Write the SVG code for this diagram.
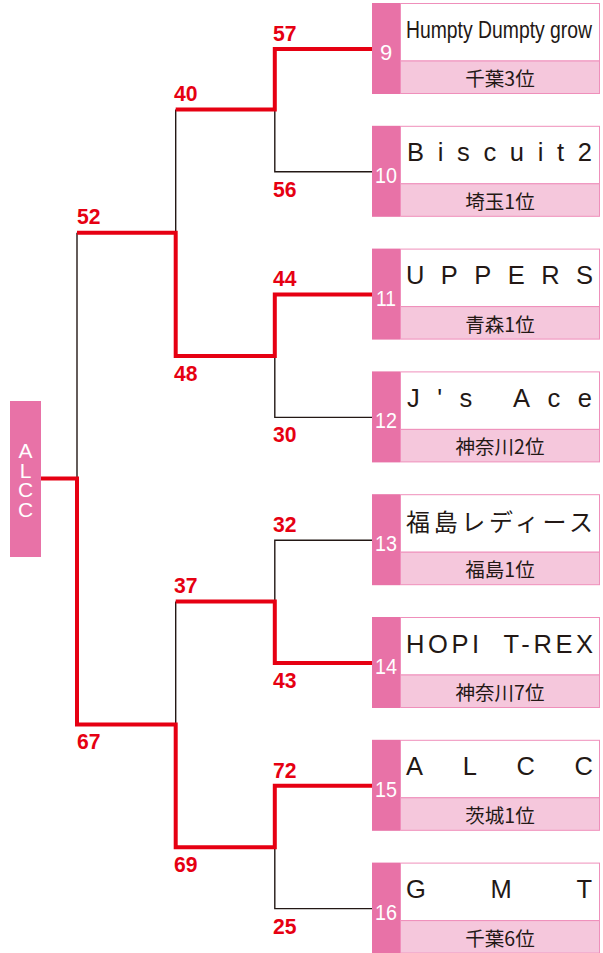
<svg xmlns="http://www.w3.org/2000/svg" width="603" height="953" viewBox="0 0 603 953">
<style>
.red{fill:none;stroke:#e60012;stroke-width:4;stroke-linejoin:miter;stroke-linecap:butt}
.blk{fill:none;stroke:#231815;stroke-width:1.4}
.score{font-family:"Liberation Sans",Arial,sans-serif;font-weight:bold;font-size:22.5px;fill:#e60012}
.col{fill:#e872a7}
.namebg{fill:#ffffff;stroke:#ef8fbb;stroke-width:1}
.subbg{fill:#f5c7dc;stroke:#ef8fbb;stroke-width:1}
.num{font-family:"Liberation Sans",Arial,sans-serif;font-size:22px;fill:#ffffff;text-anchor:middle}
.name{font-family:"Liberation Sans",Arial,"Noto Sans CJK JP",sans-serif;font-size:25.5px;fill:#231815}
.jname{font-family:"Noto Sans CJK JP",sans-serif;font-size:24px;fill:#231815}
.sub{font-family:"Noto Sans CJK JP",sans-serif;font-size:19.5px;fill:#231815;text-anchor:middle}
.champ{font-family:"Liberation Sans",Arial,sans-serif;font-size:21px;fill:#ffffff;text-anchor:middle}
</style>

<g id="connectors">
<polyline class="blk" points="372,171.8 274.8,171.8 274.8,109.4"/>
<polyline class="blk" points="372,417.4 274.8,417.4 274.8,356"/>
<polyline class="blk" points="372,540.2 274.8,540.2 274.8,601.6"/>
<polyline class="blk" points="372,908.6 274.8,908.6 274.8,847.2"/>
<polyline class="blk" points="175.7,109.4 175.7,232.7"/>
<polyline class="blk" points="175.7,601.6 175.7,724.4"/>
<polyline class="blk" points="77,232.7 77,478.5"/>
<polyline class="red" points="372,49 274.8,49 274.8,109.4 175.7,109.4"/>
<polyline class="red" points="372,294.6 274.8,294.6 274.8,356 175.7,356 175.7,232.7 77,232.7"/>
<polyline class="red" points="372,663 274.8,663 274.8,601.6 175.7,601.6"/>
<polyline class="red" points="372,785.8 274.8,785.8 274.8,847.2 175.7,847.2 175.7,724.4 77,724.4 77,478.5 41,478.5"/>
</g>

<g id="scores">
<text class="score" x="273" y="40.5" textLength="23.5" lengthAdjust="spacingAndGlyphs">57</text>
<text class="score" x="273" y="196.8" textLength="23.5" lengthAdjust="spacingAndGlyphs">56</text>
<text class="score" x="273" y="286.3" textLength="23.5" lengthAdjust="spacingAndGlyphs">44</text>
<text class="score" x="273" y="442.4" textLength="23.5" lengthAdjust="spacingAndGlyphs">30</text>
<text class="score" x="273" y="531.9" textLength="23.5" lengthAdjust="spacingAndGlyphs">32</text>
<text class="score" x="273" y="688" textLength="23.5" lengthAdjust="spacingAndGlyphs">43</text>
<text class="score" x="273" y="777.5" textLength="23.5" lengthAdjust="spacingAndGlyphs">72</text>
<text class="score" x="273" y="933.6" textLength="23.5" lengthAdjust="spacingAndGlyphs">25</text>
<text class="score" x="174" y="101" textLength="23.5" lengthAdjust="spacingAndGlyphs">40</text>
<text class="score" x="174" y="381" textLength="23.5" lengthAdjust="spacingAndGlyphs">48</text>
<text class="score" x="174" y="593.3" textLength="23.5" lengthAdjust="spacingAndGlyphs">37</text>
<text class="score" x="174" y="872.2" textLength="23.5" lengthAdjust="spacingAndGlyphs">69</text>
<text class="score" x="77" y="224.4" textLength="23.5" lengthAdjust="spacingAndGlyphs">52</text>
<text class="score" x="77" y="749.4" textLength="23.5" lengthAdjust="spacingAndGlyphs">67</text>
</g>

<g id="champion">
<rect class="col" x="10" y="401" width="31" height="156"/>
<text class="champ"><tspan x="25.5" y="458.3">A</tspan><tspan x="25.5" y="477.8">L</tspan><tspan x="25.5" y="497.3">C</tspan><tspan x="25.5" y="516.8">C</tspan></text>
</g>

<g id="team9" transform="translate(0,3)">
<rect class="col" x="372" y="0" width="28" height="91"/>
<rect class="namebg" x="400.5" y="0.5" width="199" height="57.5"/>
<rect class="subbg" x="400.5" y="58" width="199" height="32.5"/>
<text class="num" x="386" y="57">9</text>
<text class="name" x="406" y="35" style="font-size:24.5px" textLength="186" lengthAdjust="spacingAndGlyphs">Humpty Dumpty grow</text>
<text class="sub" x="500" y="83">千葉3位</text>
</g>

<g id="team10" transform="translate(0,125.8)">
<rect class="col" x="372" y="0" width="28" height="91"/>
<rect class="namebg" x="400.5" y="0.5" width="199" height="57.5"/>
<rect class="subbg" x="400.5" y="58" width="199" height="32.5"/>
<text class="num" x="386" y="57" textLength="22" lengthAdjust="spacingAndGlyphs">10</text>
<text class="name" x="407" y="35.5" textLength="185" lengthAdjust="spacing">Biscuit2</text>
<text class="sub" x="500" y="83">埼玉1位</text>
</g>

<g id="team11" transform="translate(0,248.6)">
<rect class="col" x="372" y="0" width="28" height="91"/>
<rect class="namebg" x="400.5" y="0.5" width="199" height="57.5"/>
<rect class="subbg" x="400.5" y="58" width="199" height="32.5"/>
<text class="num" x="386" y="57" textLength="20" lengthAdjust="spacingAndGlyphs">11</text>
<text class="name" x="406" y="35.5" textLength="187" lengthAdjust="spacing">UPPERS</text>
<text class="sub" x="500" y="83">青森1位</text>
</g>

<g id="team12" transform="translate(0,371.4)">
<rect class="col" x="372" y="0" width="28" height="91"/>
<rect class="namebg" x="400.5" y="0.5" width="199" height="57.5"/>
<rect class="subbg" x="400.5" y="58" width="199" height="32.5"/>
<text class="num" x="386" y="57" textLength="22" lengthAdjust="spacingAndGlyphs">12</text>
<text class="name" x="407" y="35.5" textLength="185" lengthAdjust="spacing">J's Ace</text>
<text class="sub" x="500" y="83">神奈川2位</text>
</g>

<g id="team13" transform="translate(0,494.2)">
<rect class="col" x="372" y="0" width="28" height="91"/>
<rect class="namebg" x="400.5" y="0.5" width="199" height="57.5"/>
<rect class="subbg" x="400.5" y="58" width="199" height="32.5"/>
<text class="num" x="386" y="57" textLength="22" lengthAdjust="spacingAndGlyphs">13</text>
<text class="jname" x="406" y="36.5" textLength="187" lengthAdjust="spacing">福島レディース</text>
<text class="sub" x="500" y="83">福島1位</text>
</g>

<g id="team14" transform="translate(0,617)">
<rect class="col" x="372" y="0" width="28" height="91"/>
<rect class="namebg" x="400.5" y="0.5" width="199" height="57.5"/>
<rect class="subbg" x="400.5" y="58" width="199" height="32.5"/>
<text class="num" x="386" y="57" textLength="22" lengthAdjust="spacingAndGlyphs">14</text>
<text class="name" x="406" y="35.5" textLength="187" lengthAdjust="spacing" xml:space="preserve">HOPI  T-REX</text>
<text class="sub" x="500" y="83">神奈川7位</text>
</g>

<g id="team15" transform="translate(0,739.8)">
<rect class="col" x="372" y="0" width="28" height="91"/>
<rect class="namebg" x="400.5" y="0.5" width="199" height="57.5"/>
<rect class="subbg" x="400.5" y="58" width="199" height="32.5"/>
<text class="num" x="386" y="57" textLength="22" lengthAdjust="spacingAndGlyphs">15</text>
<text class="name" x="406" y="35.5" textLength="187" lengthAdjust="spacing">ALCC</text>
<text class="sub" x="500" y="83">茨城1位</text>
</g>

<g id="team16" transform="translate(0,862.6)">
<rect class="col" x="372" y="0" width="28" height="91"/>
<rect class="namebg" x="400.5" y="0.5" width="199" height="57.5"/>
<rect class="subbg" x="400.5" y="58" width="199" height="32.5"/>
<text class="num" x="386" y="57" textLength="22" lengthAdjust="spacingAndGlyphs">16</text>
<text class="name" x="406" y="35.5" textLength="186" lengthAdjust="spacing">GMT</text>
<text class="sub" x="500" y="83">千葉6位</text>
</g>
</svg>
